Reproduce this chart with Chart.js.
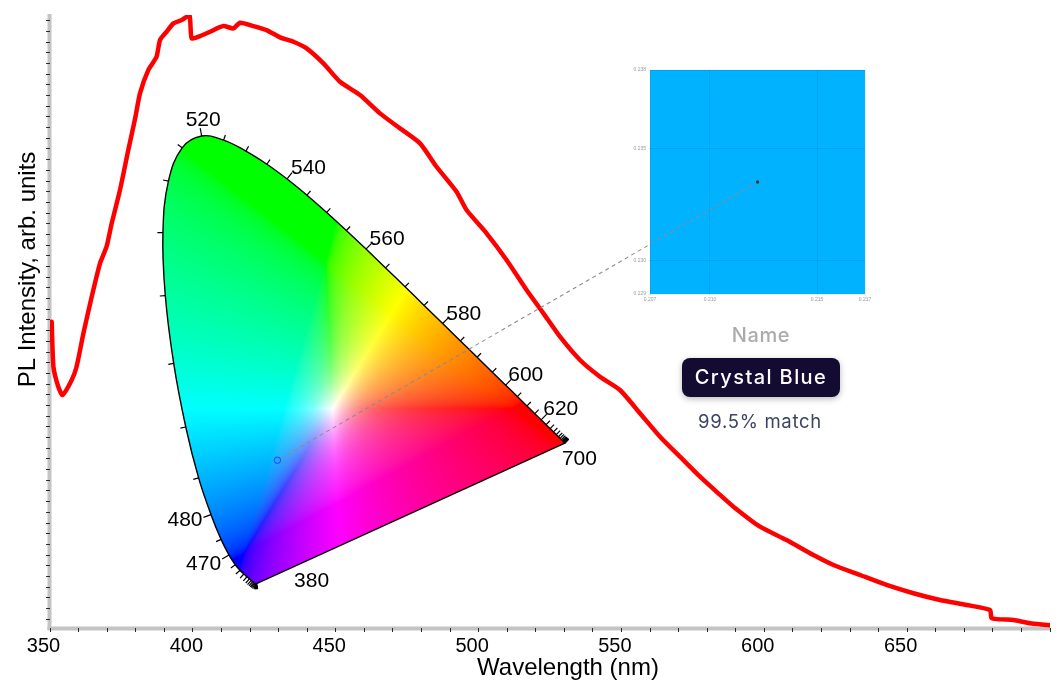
<!DOCTYPE html>
<html>
<head>
<meta charset="utf-8">
<script src="https://cdn.jsdelivr.net/npm/chart.js@4/dist/chart.umd.min.js"></script>
<style>
  html, body { margin:0; padding:0; background:#fff; }
  #wrap { position:relative; width:1059px; height:684px; background:#fff; overflow:hidden; }
  canvas { position:absolute; }
  .txt { position:absolute; text-align:center; font-family:Inter, "Open Sans", sans-serif; white-space:nowrap; }
</style>
</head>
<body>
<div id="wrap">
  <canvas id="main" width="1059" height="684" style="left:0;top:0"></canvas>
  <canvas id="inset" width="300" height="260" style="left:600px;top:50px"></canvas>
  <div class="txt" id="nameLbl" style="left:661px;top:323px;width:200px;font-size:20px;line-height:24px;color:#ababab;font-weight:500;letter-spacing:0.6px">Name</div>
  <div class="txt" id="badge" style="left:682px;top:358px;width:158px;height:39px;line-height:39px;border-radius:8px;background:#140b33;color:#fff;font-size:20px;font-weight:500;letter-spacing:1.4px;box-shadow:0 2px 6px rgba(0,0,0,0.28)">Crystal Blue</div>
  <div class="txt" id="matchLbl" style="left:660px;top:409px;width:200px;font-size:18.5px;line-height:24px;color:#3d4363;letter-spacing:0.7px">99.5% match</div>
  <canvas id="cie" width="1059" height="684" style="left:0;top:0;pointer-events:none"></canvas>
</div>
<script>
// ---------------- DATA ----------------
// PL spectrum (wavelength in nm, intensity in arbitrary units)
const WAVELENGTH = [350.6,351.2,352.9,354.4,357.6,359.3,361.7,364.6,367.5,369.8,371.6,374.5,377.4,379.8,381.5,384.4,387.3,388.5,390.8,393.2,396.1,398.8,399.6,402.5,406.0,410.7,414.2,416.5,421.2,425.8,430.5,435.2,439.8,445.7,451.5,458.5,465.5,472.5,479.5,485.3,492.3,495.8,502.8,509.8,516.8,522.7,528.5,535.5,542.5,549.5,556.5,563.5,570.5,577.5,583.9,589.2,598.5,607.8,617.2,624.2,633.5,642.8,652.2,661.5,670.8,679.0,679.6,687.2,693.0,699.4,700.0];
const INTENSITY  = [7165,6112,5644,5450,5801,6112,6893,7749,8530,8919,9466,10245,11180,11922,12507,13052,13363,13753,13948,14144,14221,14338,13793,13847,13948,14081,14027,14158,14081,13987,13817,13714,13559,13208,12778,12467,12039,11688,11337,10790,10205,9777,9232,8608,7906,7361,6814,6269,5878,5567,5022,4475,4007,3539,3150,2838,2370,2058,1707,1474,1240,1006,812,655,538,421,227,187,110,70,60];

// Main axes
const X_MIN = 350, X_MAX = 700, X_TICK_STEP = 10, X_LABEL_STEP = 50;
const X_LABELS = ['350','400','450','500','550','600','650'];
const Y_MIN = 0, Y_MAX = 14340, Y_TICK_START = 206, Y_TICK_STEP = 250;

// CIE 1931 spectral locus (nm, x, y)
const LOCUS_NM = [380,385,390,395,400,405,410,415,420,425,430,435,440,445,450,455,460,465,470,475,480,485,490,495,500,505,510,515,520,525,530,535,540,545,550,555,560,565,570,575,580,585,590,595,600,605,610,615,620,625,630,635,640,645,650,655,660,665,670,675,680,685,690,695,700];
const LOCUS_X = [0.17411,0.17401,0.17380,0.17356,0.17334,0.17302,0.17258,0.17209,0.17141,0.17030,0.16888,0.16690,0.16441,0.16110,0.15664,0.15099,0.14396,0.13550,0.12412,0.10959,0.09129,0.06871,0.04539,0.02346,0.00817,0.00386,0.01387,0.03885,0.07430,0.11416,0.15472,0.19288,0.22962,0.26578,0.30160,0.33736,0.37310,0.40874,0.44406,0.47877,0.51249,0.54479,0.57515,0.60293,0.62704,0.64823,0.66576,0.68008,0.69150,0.70061,0.70792,0.71403,0.71903,0.72303,0.72599,0.72827,0.72997,0.73109,0.73199,0.73272,0.73342,0.73405,0.73440,0.73459,0.73469];
const LOCUS_Y = [0.00496,0.00498,0.00492,0.00492,0.00480,0.00478,0.00480,0.00483,0.00510,0.00579,0.00690,0.00855,0.01086,0.01379,0.01770,0.02274,0.02970,0.03988,0.05780,0.08684,0.13270,0.20072,0.29498,0.41270,0.53842,0.65482,0.75019,0.81202,0.83380,0.82621,0.80586,0.78163,0.75433,0.72432,0.69231,0.65885,0.62445,0.58961,0.55471,0.52020,0.48659,0.45443,0.42423,0.39650,0.37249,0.35139,0.33401,0.31975,0.30834,0.29930,0.29203,0.28593,0.28093,0.27695,0.27401,0.27173,0.27003,0.26891,0.26801,0.26728,0.26658,0.26595,0.26560,0.26541,0.26531];

// Measured chromaticity
const POINT_X = [0.2120];
const POINT_Y = [0.2335];

// Zoomed inset axes
const INSET_X_TICKS = [0.207, 0.20979, 0.21477, 0.217];
const INSET_Y_TICKS = [0.229, 0.23033, 0.23483, 0.238];

// ---------------- STYLE ----------------
const AXIS_GREY = '#c4c4c4';
const TICK_DARK = '#2a2a2a';
const FONT = '"Liberation Sans", Arial, Helvetica, sans-serif';

function xTicks() { const t=[]; for (let v=X_MIN; v<=X_MAX+1e-9; v+=X_TICK_STEP) t.push({value:v}); return t; }
function yTicks() { const t=[]; for (let v=Y_TICK_START; v<=Y_MAX; v+=Y_TICK_STEP) t.push({value:v}); return t; }

const axisBars = {
  id:'axisBars',
  beforeDraw(chart){
    const {ctx, chartArea:a} = chart;
    ctx.save();
    ctx.fillStyle = AXIS_GREY;
    ctx.fillRect(a.left-2.5, a.top-1, 4, a.bottom-a.top+3);
    ctx.fillRect(a.left-2.5, a.bottom-1.5, a.right-a.left+2.5, 4);
    ctx.restore();
  },
  afterDraw(chart){
    const {ctx, chartArea:a} = chart;
    ctx.save();
    ctx.fillStyle = '#000';
    ctx.font = '24px ' + FONT;
    ctx.textAlign = 'center'; ctx.textBaseline = 'middle';
    ctx.fillText('Wavelength (nm)', (a.left+a.right)/2 + 18, 668);
    ctx.translate(28, (a.top+a.bottom)/2 - 52);
    ctx.rotate(-Math.PI/2);
    ctx.fillText('PL Intensity, arb. units', 0, 0);
    ctx.restore();
  }
};

new Chart(document.getElementById('main'), {
  type:'line',
  data:{ datasets:[{
    data: WAVELENGTH.map((w,i)=>({x:w, y:INTENSITY[i]})),
    borderColor:'#ff0000', borderWidth:4.5, pointRadius:0, tension:0.2,
    borderJoinStyle:'round', borderCapStyle:'round', fill:false
  }]},
  options:{
    responsive:false, animation:false, devicePixelRatio:1,
    layout:{ padding:{ top:15, right:9, left:0, bottom:0 } },
    plugins:{ legend:{display:false}, tooltip:{enabled:false} },
    scales:{
      x:{ type:'linear', min:X_MIN, max:X_MAX,
          afterBuildTicks: s => { s.ticks = xTicks(); },
          afterFit: s => { s.height = 56; },
          border:{display:false},
          grid:{ drawOnChartArea:false, drawTicks:true, tickLength:4, color:TICK_DARK, lineWidth:1 },
          ticks:{ autoSkip:false, maxRotation:0, padding:2, labelOffset:-6.5, color:'#000', font:{family:FONT, size:20},
                  callback: v => (v % X_LABEL_STEP === 0 && v < X_MAX) ? X_LABELS[(v - X_MIN)/X_LABEL_STEP] : '' } },
      y:{ type:'linear', min:Y_MIN, max:Y_MAX,
          afterBuildTicks: s => { s.ticks = yTicks(); },
          afterFit: s => { s.width = 50; },
          border:{display:false},
          grid:{ drawOnChartArea:false, drawTicks:true, tickLength:4, color:TICK_DARK, lineWidth:1 },
          ticks:{ display:false } }
    }
  },
  plugins:[axisBars]
});

// ---------------- INSET (zoom) ----------------
const insetBg = {
  id:'insetBg',
  beforeDraw(chart){
    const {ctx, chartArea:a} = chart;
    ctx.save(); ctx.fillStyle = 'rgb(0,178,255)';
    ctx.fillRect(a.left, a.top, a.right-a.left, a.bottom-a.top);
    ctx.restore();
  }
};
const insetChart = new Chart(document.getElementById('inset'), {
  type:'scatter',
  data:{ datasets:[{ data: POINT_X.map((x,i)=>({x, y:POINT_Y[i]})), pointRadius:1.6, backgroundColor:'#3a3a3a', borderWidth:0 }]},
  options:{
    responsive:false, animation:false, devicePixelRatio:1,
    layout:{ padding:{ top:20, right:35, left:0, bottom:0 } },
    plugins:{ legend:{display:false}, tooltip:{enabled:false} },
    scales:{
      x:{ type:'linear', min:0.207, max:0.217,
          afterBuildTicks: s => { s.ticks = INSET_X_TICKS.map(v=>({value:v})); },
          afterFit: s => { s.height = 16; },
          border:{display:false},
          grid:{ color:'rgba(0,0,0,0.07)', lineWidth:1, tickLength:2 },
          ticks:{ autoSkip:false, maxRotation:0, padding:1, color:'#9a9a9a', font:{family:FONT, size:5}, callback: v => v.toFixed(3) } },
      y:{ type:'linear', min:0.229, max:0.238,
          afterBuildTicks: s => { s.ticks = INSET_Y_TICKS.map(v=>({value:v})); },
          afterFit: s => { s.width = 50; },
          border:{display:false},
          grid:{ color:'rgba(0,0,0,0.07)', lineWidth:1, tickLength:2 },
          ticks:{ padding:2, color:'#9a9a9a', font:{family:FONT, size:5}, callback: v => v.toFixed(3) } }
    }
  },
  plugins:[insetBg]
});

// ---------------- CIE DIAGRAM ----------------
function cieRGB(x, y){
  if (y <= 1e-6) return [0,0,0];
  const X = x/y, Y = 1, Z = (1-x-y)/y;
  let r =  3.2406*X - 1.5372*Y - 0.4986*Z;
  let g = -0.9689*X + 1.8758*Y + 0.0415*Z;
  let b =  0.0557*X - 0.2040*Y + 1.0570*Z;
  r = Math.max(r,0); g = Math.max(g,0); b = Math.max(b,0);
  const m = Math.max(r,g,b) || 1;
  r/=m; g/=m; b/=m;
  const mn0 = Math.min(r,g,b);
  const s = 0.86 - 0.38*mn0*mn0;
  const mn = mn0*s;
  r = (r-mn)/(1-mn); g = (g-mn)/(1-mn); b = (b-mn)/(1-mn);
  const gam = c => c <= 0.0031308 ? 12.92*c : 1.055*Math.pow(c, 1/2.4) - 0.055;
  return [gam(r)*255, gam(g)*255, gam(b)*255];
}

const LABEL_STYLE = {
  380:{anchor:'locus', align:'left',  base:'alphabetic', dx:37.5, dy:3},
  470:{anchor:'tick',  align:'right', base:'middle', dx:-1, dy:5},
  480:{anchor:'tick',  align:'right', base:'middle', dx:-1, dy:3},
  520:{anchor:'tick',  align:'center',base:'alphabetic', dx:3, dy:-2},
  540:{anchor:'tick',  align:'left',  base:'alphabetic', dx:-1, dy:1.5},
  560:{anchor:'tick',  align:'left',  base:'alphabetic', dx:-2, dy:1.5},
  580:{anchor:'tick',  align:'left',  base:'alphabetic', dx:-2, dy:2},
  600:{anchor:'tick',  align:'left',  base:'alphabetic', dx:-3, dy:1.5},
  620:{anchor:'tick',  align:'left',  base:'alphabetic', dx:-3.5, dy:1},
  700:{anchor:'locus', align:'left',  base:'alphabetic', dx:-3, dy:22}
};

const ciePlugin = {
  id:'cieFill',
  beforeDatasetsDraw(chart){
    const {ctx} = chart; const sx = chart.scales.x, sy = chart.scales.y;
    const pts = LOCUS_NM.map((_,i)=>[sx.getPixelForValue(LOCUS_X[i]), sy.getPixelForValue(LOCUS_Y[i])]);
    const xs = pts.map(p=>p[0]), ys = pts.map(p=>p[1]);
    const x0 = Math.floor(Math.min(...xs))-4, x1 = Math.ceil(Math.max(...xs))+4;
    const y0 = Math.floor(Math.min(...ys))-4, y1 = Math.ceil(Math.max(...ys))+4;
    const w = x1-x0, h = y1-y0;
    const off = document.createElement('canvas'); off.width = w; off.height = h;
    const octx = off.getContext('2d'); const img = octx.createImageData(w,h);
    for (let j=0;j<h;j++){
      const cy = sy.getValueForPixel(y0+j+0.5);
      for (let i=0;i<w;i++){
        const cx = sx.getValueForPixel(x0+i+0.5);
        const c = cieRGB(cx, Math.max(cy, 0.002)); const k = (j*w+i)*4;
        img.data[k]=c[0]; img.data[k+1]=c[1]; img.data[k+2]=c[2]; img.data[k+3]=255;
      }
    }
    octx.putImageData(img,0,0);
    ctx.save();
    ctx.beginPath();
    const line = chart.getDatasetMeta(0).dataset;
    line.path(ctx);
    ctx.closePath(); ctx.clip();
    ctx.drawImage(off, x0, y0);
    ctx.restore();
  },
  afterDatasetsDraw(chart){
    const {ctx} = chart; const sx = chart.scales.x, sy = chart.scales.y;
    const pts = LOCUS_NM.map((_,i)=>[sx.getPixelForValue(LOCUS_X[i]), sy.getPixelForValue(LOCUS_Y[i])]);
    ctx.save();
    ctx.strokeStyle = '#000'; ctx.lineWidth = 1.2; ctx.fillStyle = '#000';
    ctx.font = '21px ' + FONT;
    for (let i=0;i<pts.length;i++){
      const nm = LOCUS_NM[i];
      const a = pts[Math.max(i-1,0)], b = pts[Math.min(i+1,pts.length-1)];
      let tx = b[0]-a[0], ty = b[1]-a[1]; const L = Math.hypot(tx,ty) || 1; tx/=L; ty/=L;
      const nx = ty, ny = -tx;
      const st = LABEL_STYLE[nm];
      const isMajor = st && st.anchor === 'tick';
      const len = isMajor ? 8 : 5.5;
      if (i > 0){
        ctx.beginPath();
        ctx.moveTo(pts[i][0], pts[i][1]);
        ctx.lineTo(pts[i][0]+nx*len, pts[i][1]+ny*len);
        ctx.stroke();
      }
      if (st){
        const ax = st.anchor==='tick' ? pts[i][0]+nx*len : pts[i][0];
        const ay = st.anchor==='tick' ? pts[i][1]+ny*len : pts[i][1];
        ctx.textAlign = st.align; ctx.textBaseline = st.base;
        ctx.fillText(String(nm), ax+st.dx, ay+st.dy);
      }
    }
    // dashed connector to the zoomed inset
    const p = chart.getDatasetMeta(1).data[0];
    const q = insetChart.getDatasetMeta(0).data[0];
    const cv = insetChart.canvas;
    const ex = q.x + cv.offsetLeft, ey = q.y + cv.offsetTop;
    let dx = ex-p.x, dy = ey-p.y; const d = Math.hypot(dx,dy); dx/=d; dy/=d;
    ctx.setLineDash([4,3.5]); ctx.strokeStyle = '#8c8c8c'; ctx.lineWidth = 1.1;
    ctx.beginPath(); ctx.moveTo(p.x+dx*4, p.y+dy*4); ctx.lineTo(ex, ey); ctx.stroke();
    ctx.setLineDash([]);
    ctx.fillStyle = '#3a3a3a'; ctx.beginPath(); ctx.arc(ex, ey, 1.6, 0, Math.PI*2); ctx.fill();
    ctx.restore();
  }
};

const locusClosed = LOCUS_NM.map((_,i)=>({x:LOCUS_X[i], y:LOCUS_Y[i]}));
locusClosed.push({x:LOCUS_X[0], y:LOCUS_Y[0]});

new Chart(document.getElementById('cie'), {
  type:'scatter',
  data:{ datasets:[
    { data: locusClosed, showLine:true, borderColor:'#000', borderWidth:1.4, pointRadius:0, fill:false, tension:0.4 },
    { data: POINT_X.map((x,i)=>({x, y:POINT_Y[i]})), pointRadius:3.2, pointBorderWidth:1, borderColor:'#1f3fff', backgroundColor:'rgba(0,0,0,0)' }
  ]},
  options:{
    responsive:false, animation:false, devicePixelRatio:1,
    layout:{ padding:{ left:160.8, right:458.2, top:100.3, bottom:97.7 } },
    plugins:{ legend:{display:false}, tooltip:{enabled:false} },
    scales:{
      x:{ type:'linear', min:0, max:0.8, display:false },
      y:{ type:'linear', min:0, max:0.9, display:false }
    }
  },
  plugins:[ciePlugin]
});
</script>
</body>
</html>
